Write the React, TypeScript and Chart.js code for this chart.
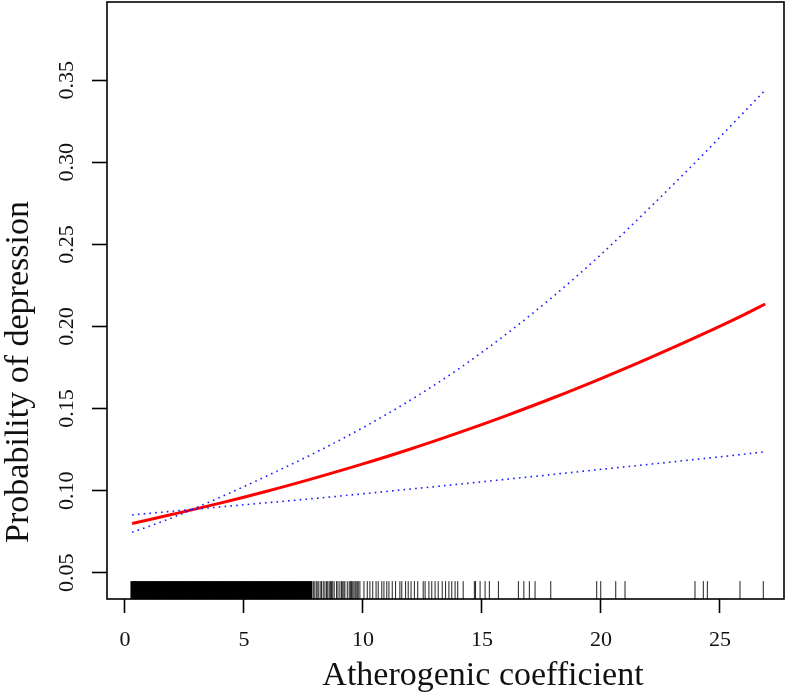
import React, { useEffect, useRef } from "react";
import { Chart, registerables } from "chart.js";

Chart.register(...registerables);

// ---------- data ----------
const X_GRID = [0.3, 2, 4, 6, 8, 10, 12, 14, 16, 18, 20, 22, 24, 26, 26.9];
const FIT = [0.080, 0.0856, 0.0924, 0.0998, 0.1078, 0.1163, 0.1254, 0.1352, 0.1456, 0.1566, 0.1683, 0.1806, 0.1935, 0.2071, 0.2137];
const CI_STEEP = [0.0746, 0.0836, 0.0960, 0.1092, 0.1232, 0.1384, 0.1552, 0.1740, 0.1952, 0.2184, 0.2439, 0.2717, 0.3005, 0.3305, 0.3440];
const CI_FLAT = [0.0852, 0.0875, 0.0901, 0.0927, 0.0953, 0.0981, 0.1010, 0.1039, 0.1069, 0.1099, 0.1130, 0.1160, 0.1191, 0.1222, 0.1237];

// rug: dense block (observations packed tightly) and sparse individual observations
const RUG_DENSE = [
  0.3, 0.4, 0.5, 0.6, 0.7, 0.8, 0.9, 1.0, 1.1, 1.2, 1.3, 1.4, 1.5, 1.6, 1.7, 1.8, 1.9, 2.0,
  2.1, 2.2, 2.3, 2.4, 2.5, 2.6, 2.7, 2.8, 2.9, 3.0, 3.1, 3.2, 3.3, 3.4, 3.5, 3.6, 3.7, 3.8,
  3.9, 4.0, 4.1, 4.2, 4.3, 4.4, 4.5, 4.6, 4.7, 4.8, 4.9, 5.0, 5.1, 5.2, 5.3, 5.4, 5.5, 5.6,
  5.7, 5.8, 5.9, 6.0, 6.1, 6.2, 6.3, 6.4, 6.5, 6.6, 6.7, 6.8, 6.9, 7.0, 7.1, 7.2, 7.3, 7.4,
  7.5, 7.6, 7.7, 7.8,
];
const RUG_SPARSE = [
  7.91, 7.95, 8.03, 8.07, 8.12, 8.2, 8.26, 8.33, 8.4, 8.47, 8.52, 8.58, 8.63, 8.68, 8.73, 8.79,
  8.89, 8.95, 9.03, 9.1, 9.15, 9.2, 9.24, 9.34, 9.42, 9.47, 9.52, 9.57, 9.62, 9.67, 9.71, 9.76,
  9.8, 9.87, 10.04, 10.18, 10.29, 10.41, 10.55, 10.64, 10.79, 10.88, 11.0, 11.09, 11.23, 11.37,
  11.55, 11.63, 11.79, 11.9, 12.02, 12.16, 12.3, 12.53, 12.61, 12.77, 12.89, 13.03, 13.16, 13.33,
  13.47, 13.61, 13.73, 13.87, 13.98, 14.21, 14.68, 14.73, 14.92, 15.13, 15.31, 15.69, 16.53,
  16.76, 16.99, 17.23, 17.89, 19.82, 19.99, 20.62, 21.01, 23.95, 24.3, 24.47, 25.84, 26.82,
];
const RUG_Y = 0.0394;

const X_TICKS = [0, 5, 10, 15, 20, 25];
const X_TICK_LABELS = ["0", "5", "10", "15", "20", "25"];
const Y_TICKS = [0.05, 0.1, 0.15, 0.2, 0.25, 0.3, 0.35];
const Y_TICK_LABELS = ["0.05", "0.10", "0.15", "0.20", "0.25", "0.30", "0.35"];

const X_TITLE = "Atherogenic coefficient";
const Y_TITLE = "Probability of depression";

const FONT = "'Liberation Serif', 'DejaVu Serif', serif";

const boxAndTitles = {
  id: "boxAndTitles",
  afterDraw(chart: any) {
    const { ctx, chartArea } = chart;
    ctx.save();
    ctx.strokeStyle = "#000";
    ctx.lineWidth = 1.6;
    ctx.strokeRect(chartArea.left, chartArea.top, chartArea.right - chartArea.left, chartArea.bottom - chartArea.top);
    ctx.fillStyle = "#111";
    ctx.font = `34px ${FONT}`;
    ctx.textAlign = "center";
    ctx.textBaseline = "alphabetic";
    ctx.fillText(X_TITLE, 483, 685);
    ctx.translate(28, 372);
    ctx.rotate(-Math.PI / 2);
    ctx.fillText(Y_TITLE, 0, 0);
    ctx.restore();
  },
};

export default function App() {
  const ref = useRef<HTMLCanvasElement>(null);

  useEffect(() => {
    const canvas = ref.current;
    if (!canvas) return;
    const toPts = (ys: number[]) => X_GRID.map((x, i) => ({ x, y: ys[i] }));
    const chart = new Chart(canvas, {
      type: "line",
      data: {
        datasets: [
          {
            label: "rug dense",
            data: RUG_DENSE.map((x) => ({ x, y: RUG_Y })),
            showLine: false,
            pointStyle: "line",
            rotation: 90,
            pointRadius: 9,
            pointBorderWidth: 3.4,
            pointBorderColor: "#000",
            pointBackgroundColor: "#000",
            clip: false as any,
          } as any,
          {
            label: "rug sparse",
            data: RUG_SPARSE.map((x) => ({ x, y: RUG_Y })),
            showLine: false,
            pointStyle: "line",
            rotation: 90,
            pointRadius: 9,
            pointBorderWidth: 1,
            pointBorderColor: "#222",
            pointBackgroundColor: "#222",
            clip: false as any,
          } as any,
          {
            label: "CI steep",
            data: toPts(CI_STEEP),
            borderColor: "#1a1aff",
            borderWidth: 1.6,
            borderDash: [1.6, 4.2],
            pointRadius: 0,
            cubicInterpolationMode: "monotone",
            fill: false,
          },
          {
            label: "CI flat",
            data: toPts(CI_FLAT),
            borderColor: "#1a1aff",
            borderWidth: 1.6,
            borderDash: [1.6, 4.2],
            pointRadius: 0,
            cubicInterpolationMode: "monotone",
            fill: false,
          },
          {
            label: "fit",
            data: toPts(FIT),
            borderColor: "#ff0000",
            borderWidth: 3,
            pointRadius: 0,
            cubicInterpolationMode: "monotone",
            fill: false,
          },
        ],
      },
      options: {
        animation: false,
        responsive: false,
        maintainAspectRatio: false,
        layout: { autoPadding: false, padding: { top: 2, right: 8, left: 0, bottom: 0 } },
        plugins: { legend: { display: false }, tooltip: { enabled: false }, title: { display: false } },
        scales: {
          x: {
            type: "linear",
            min: -0.756,
            max: 27.69,
            afterBuildTicks: (scale: any) => {
              scale.ticks = X_TICKS.map((v) => ({ value: v }));
            },
            afterFit: (scale: any) => {
              scale.height = 94;
              scale.paddingLeft = 0;
              scale.paddingRight = 0;
            },
            border: { display: false },
            grid: {
              drawOnChartArea: false,
              drawTicks: true,
              tickLength: 14,
              tickColor: "#000",
              tickWidth: 1.6,
            },
            ticks: {
              padding: 14,
              color: "#111",
              font: { family: FONT, size: 22 },
              maxRotation: 0,
              minRotation: 0,
              autoSkip: false,
              callback: (_v: any, i: number) => X_TICK_LABELS[i],
            },
          },
          y: {
            type: "linear",
            min: 0.034,
            max: 0.3977,
            afterBuildTicks: (scale: any) => {
              scale.ticks = Y_TICKS.map((v) => ({ value: v }));
            },
            afterFit: (scale: any) => {
              scale.width = 107;
              scale.paddingTop = 0;
              scale.paddingBottom = 0;
            },
            border: { display: false },
            grid: {
              drawOnChartArea: false,
              drawTicks: true,
              tickLength: 15,
              tickColor: "#000",
              tickWidth: 1.6,
            },
            ticks: {
              padding: 6,
              color: "#111",
              font: { family: FONT, size: 22 },
              minRotation: 90,
              maxRotation: 90,
              crossAlign: "center",
              autoSkip: false,
              callback: (_v: any, i: number) => Y_TICK_LABELS[i],
            },
          },
        },
      } as any,
      plugins: [boxAndTitles],
    });
    return () => chart.destroy();
  }, []);

  return (
    <div style={{ position: "fixed", left: 0, top: 0, width: 792, height: 693, background: "#fff" }}>
      <canvas ref={ref} width={792} height={693} style={{ display: "block" }} />
    </div>
  );
}
